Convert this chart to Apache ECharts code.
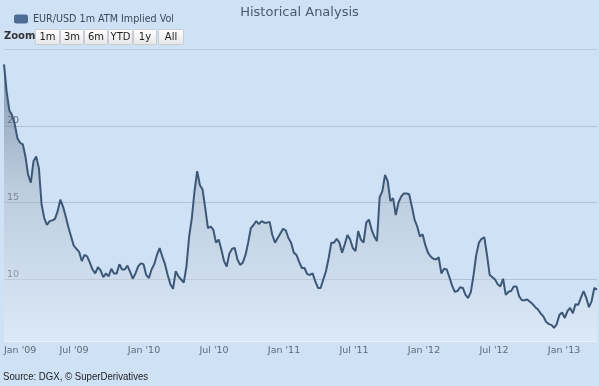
<!DOCTYPE html>
<html>
<head>
<meta charset="utf-8">
<script src="https://cdn.jsdelivr.net/npm/echarts@6/dist/echarts.min.js"></script>
<style>
html,body{margin:0;padding:0;background:#cee1f5;}
#chart{width:599px;height:386px;}
</style>
</head>
<body>
<div id="chart"></div>
<script>
// ---- data ----
const titleText = 'Historical Analysis';
const seriesName = 'EUR/USD 1m ATM Implied Vol';
const sourceText = 'Source: DGX, \u00A9 SuperDerivatives';
const zoomButtons = ['1m', '3m', '6m', 'YTD', '1y', 'All'];
const firstDate = '2009-01-01';   // weekly observations
const stepDays = 7;
const monthNames = ['Jan','Feb','Mar','Apr','May','Jun','Jul','Aug','Sep','Oct','Nov','Dec'];

const vol2009 = [24.0, 22.2, 21.0, 20.7, 20.1, 19.2, 18.9, 18.8, 18.0, 16.8, 16.3, 17.7, 18.0, 17.25, 14.9, 14.0, 13.55, 13.8, 13.85, 13.95, 14.45, 15.2, 14.75, 14.1, 13.4, 12.8, 12.2, 12.0, 11.8, 11.2, 11.6, 11.5, 11.1, 10.65, 10.4, 10.8, 10.6, 10.15, 10.4, 10.2, 10.7, 10.4, 10.4, 11.0, 10.65, 10.65, 10.9, 10.5, 10.05, 10.4, 10.85, 11.05, 11.0];
const vol2010 = [10.3, 10.1, 10.65, 11.0, 11.6, 12.05, 11.5, 11.0, 10.3, 9.7, 9.4, 10.55, 10.2, 10.0, 9.8, 10.85, 12.8, 14.0, 15.75, 17.05, 16.15, 15.85, 14.65, 13.35, 13.45, 13.25, 12.4, 12.6, 11.95, 11.2, 10.85, 11.7, 12.0, 12.05, 11.3, 10.95, 11.1, 11.6, 12.4, 13.35, 13.55, 13.8, 13.6, 13.8, 13.7, 13.7, 13.75, 12.9, 12.4, 12.7, 13.0, 13.3];
const vol2011 = [13.2, 12.7, 12.4, 11.75, 11.6, 11.15, 10.75, 10.75, 10.35, 10.3, 10.4, 9.9, 9.45, 9.45, 10.0, 10.55, 11.4, 12.4, 12.4, 12.65, 12.4, 11.75, 12.3, 12.9, 12.6, 12.05, 11.85, 13.15, 12.6, 12.4, 13.7, 13.9, 13.25, 12.8, 12.5, 15.35, 15.75, 16.8, 16.4, 15.1, 15.3, 14.2, 15.0, 15.4, 15.6, 15.6, 15.55, 14.75, 13.9, 13.45, 12.8, 12.95];
const vol2012 = [12.25, 11.75, 11.5, 11.35, 11.3, 11.45, 10.4, 10.7, 10.65, 10.15, 9.6, 9.2, 9.25, 9.5, 9.45, 9.0, 8.8, 9.2, 10.3, 11.6, 12.4, 12.65, 12.75, 11.6, 10.3, 10.15, 10.0, 9.7, 9.55, 10.05, 9.0, 9.2, 9.25, 9.55, 9.55, 8.9, 8.65, 8.65, 8.7, 8.55, 8.4, 8.2, 8.05, 7.8, 7.6, 7.25, 7.1, 7.05, 6.85, 7.1, 7.7, 7.85];
const vol2013 = [7.5, 7.95, 8.15, 7.8, 8.4, 8.35, 8.8, 9.25, 8.8, 8.2, 8.6, 9.45, 9.35];

const yMin = 6, yMax = 25;

// ---- build ----
const values = [].concat(vol2009, vol2010, vol2011, vol2012, vol2013);
const DAY = 86400000;
const t0 = Date.parse(firstDate + 'T00:00:00Z');
const points = values.map((v, i) => [t0 + i * stepDays * DAY, v]);
const tEnd = points[points.length - 1][0];
const halfYear = 182.625 * DAY;

const chart = echarts.init(document.getElementById('chart'), null, {renderer: 'canvas'});

const btnX = [35, 60, 84, 108, 133, 158];
const btnW = [24, 23, 23, 24, 23, 25];
const graphics = [
  {type: 'text', left: 4, top: 31, style: {text: 'Zoom', fill: '#333', font: 'bold 10px "DejaVu Sans"'}},
  {type: 'text', x: 3, y: 371, scaleX: 0.875, style: {text: sourceText, fill: '#222', font: '11px "Liberation Sans"'}}
];
zoomButtons.forEach((b, k) => {
  graphics.push({
    type: 'rect', shape: {x: btnX[k] + 0.5, y: 29.5, width: btnW[k], height: 15, r: 1},
    style: {fill: new echarts.graphic.LinearGradient(0, 0, 0, 1, [{offset: 0, color: '#ffffff'}, {offset: 1, color: '#e6e6e6'}]), stroke: '#c8ccd2', lineWidth: 1}
  });
  graphics.push({
    type: 'text', x: btnX[k] + 0.5 + btnW[k] / 2, y: 37,
    style: {text: b, fill: '#222', font: '10px "DejaVu Sans"', align: 'center', verticalAlign: 'middle'}
  });
});

chart.setOption({
  backgroundColor: '#cee1f5',
  animation: false,
  title: {
    text: titleText, left: 'center', top: 1,
    textStyle: {fontFamily: 'DejaVu Sans', fontSize: 13, fontWeight: 'normal', color: '#4a5a6c'}
  },
  legend: {
    left: 9, top: 9, itemWidth: 14, itemHeight: 9, itemGap: 5,
    icon: 'roundRect',
    textStyle: {fontFamily: 'DejaVu Sans', fontSize: 9.6, color: '#3a4a5c'},
    data: [{name: seriesName, itemStyle: {color: '#4e6d94'}}]
  },
  grid: {left: 4, right: 2, top: 49, bottom: 45, containLabel: false},
  xAxis: {
    type: 'value', min: t0, max: tEnd, interval: halfYear,
    axisLine: {show: true, lineStyle: {color: 'rgba(235,243,252,0.9)', width: 1}},
    axisTick: {show: false},
    splitLine: {show: false},
    axisLabel: {
      margin: 5, fontFamily: 'DejaVu Sans', fontSize: 9.5, color: '#5e6a78',
      alignMinLabel: 'left', showMaxLabel: false,
      formatter: function (v) {
        const d = new Date(v);
        const m = d.getUTCMonth();
        if ((m !== 0 && m !== 6) || d.getUTCDate() > 4) return '';
        return monthNames[m] + " '" + String(d.getUTCFullYear()).slice(2);
      }
    }
  },
  yAxis: {
    type: 'value', min: yMin, max: yMax, splitNumber: 4,
    axisLine: {show: false}, axisTick: {show: false},
    splitLine: {show: true, lineStyle: {color: ['rgba(235,243,252,0.6)', '#b4c2d0', '#b4c2d0', '#b4c2d0', '#bccadb'], width: 1}},
    axisLabel: {
      inside: true, margin: 3, verticalAlign: 'bottom',
      fontFamily: 'DejaVu Sans', fontSize: 9.5, color: '#5e6a78',
      formatter: function (v) { return (v % 5 === 0 && v < yMax) ? String(v) : ''; }
    }
  },
  series: [{
    name: seriesName, type: 'line', data: points,
    showSymbol: false, symbol: 'none', smooth: false,
    lineStyle: {color: '#3d5877', width: 2},
    itemStyle: {color: '#4e6d94'},
    areaStyle: {
      color: new echarts.graphic.LinearGradient(0, 0, 0, 1, [
        {offset: 0, color: 'rgba(70,92,120,0.85)'},
        {offset: 0.45, color: 'rgba(160,172,188,0.55)'},
        {offset: 1, color: 'rgba(240,246,252,0.55)'}
      ])
    }
  }],
  graphic: graphics
});
</script>
</body>
</html>
